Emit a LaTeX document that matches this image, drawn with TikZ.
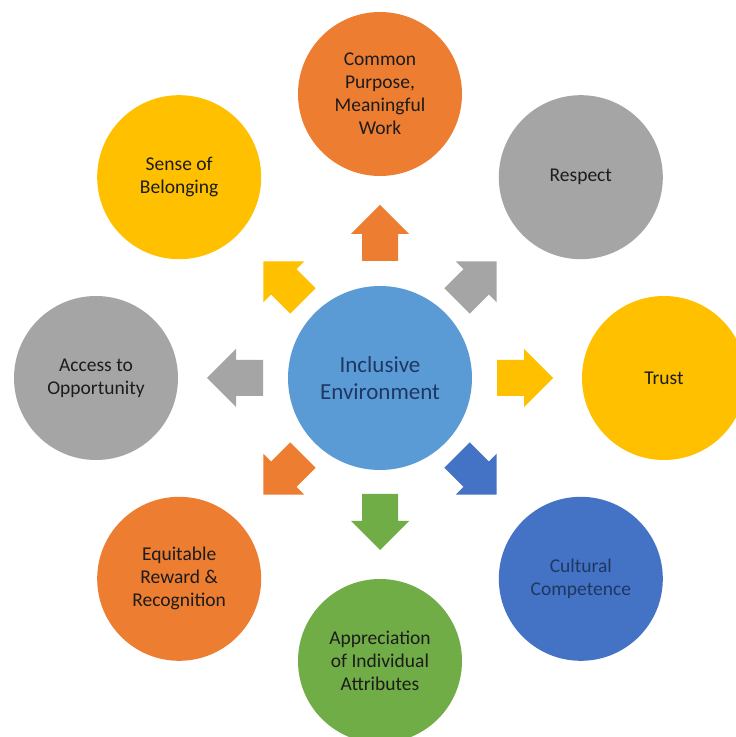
\documentclass[tikz,border=0pt]{standalone}
\usepackage{fontspec}
\setmainfont{Carlito}
\usetikzlibrary{calc}
\definecolor{cOrange}{HTML}{ED7D31}
\definecolor{cGray}{HTML}{A5A5A5}
\definecolor{cYellow}{HTML}{FFC000}
\definecolor{cLightBlue}{HTML}{5B9BD5}
\definecolor{cBlue}{HTML}{4472C4}
\definecolor{cGreen}{HTML}{70AD47}
\definecolor{txtDark}{HTML}{1C1C1C}
\definecolor{txtNavy}{HTML}{1F3763}
\begin{document}
\begin{tikzpicture}[x=1pt,y=1pt,
  outerbubble/.style={circle, minimum size=164pt, inner sep=0pt, align=center,
    font=\fontsize{19.5}{23}\selectfont, text=txtDark},
  centerbubble/.style={circle, minimum size=184pt, inner sep=0pt, align=center,
    font=\fontsize{23}{27}\selectfont, text=txtNavy, fill=cLightBlue}]
\useasboundingbox (0,0) rectangle (736,737);
\clip (0,0) rectangle (736,737);
\fill[white] (0,0) rectangle (736,737);
\coordinate (c) at (380,359);
% block arrows radiating from the centre
\foreach \a/\col/\d in {90/cOrange/0, 45/cGray/-8, 0/cYellow/0, -45/cBlue/-8,
                        -90/cGreen/-1, -135/cOrange/-8, 180/cGray/0, 135/cYellow/-8}{
  \begin{scope}[shift={(c)}, rotate=\a, xshift=\d]
    \fill[\col] (117,-18) -- (144,-18) -- (144,-29) -- (173,0) -- (144,29)
      -- (144,18) -- (117,18) -- cycle;
  \end{scope}
}
\node[centerbubble] (env) at (c) {Inclusive\\Environment};
\node[outerbubble, fill=cOrange] (purpose) at ($(c)+(90:284)$) {Common\\Purpose,\\Meaningful\\Work};
\node[outerbubble, fill=cGray] (respect) at ($(c)+(45:284)$) {Respect};
\node[outerbubble, fill=cYellow] (trust) at ($(c)+(0:284)$) {Trust};
\node[outerbubble, fill=cBlue, text=txtNavy] (culture) at ($(c)+(-45:284)$) {Cultural\\Competence};
\node[outerbubble, fill=cGreen] (appreciation) at ($(c)+(-90:283)$) {Appreciation\\of Individual\\Attributes};
\node[outerbubble, fill=cOrange] (reward) at ($(c)+(-135:284)$) {Equitable\\Reward \&\\Recognition};
\node[outerbubble, fill=cGray] (access) at ($(c)+(180:284)$) {Access to\\Opportunity};
\node[outerbubble, fill=cYellow] (belonging) at ($(c)+(135:284)$) {Sense of\\Belonging};
\end{tikzpicture}
\end{document}
